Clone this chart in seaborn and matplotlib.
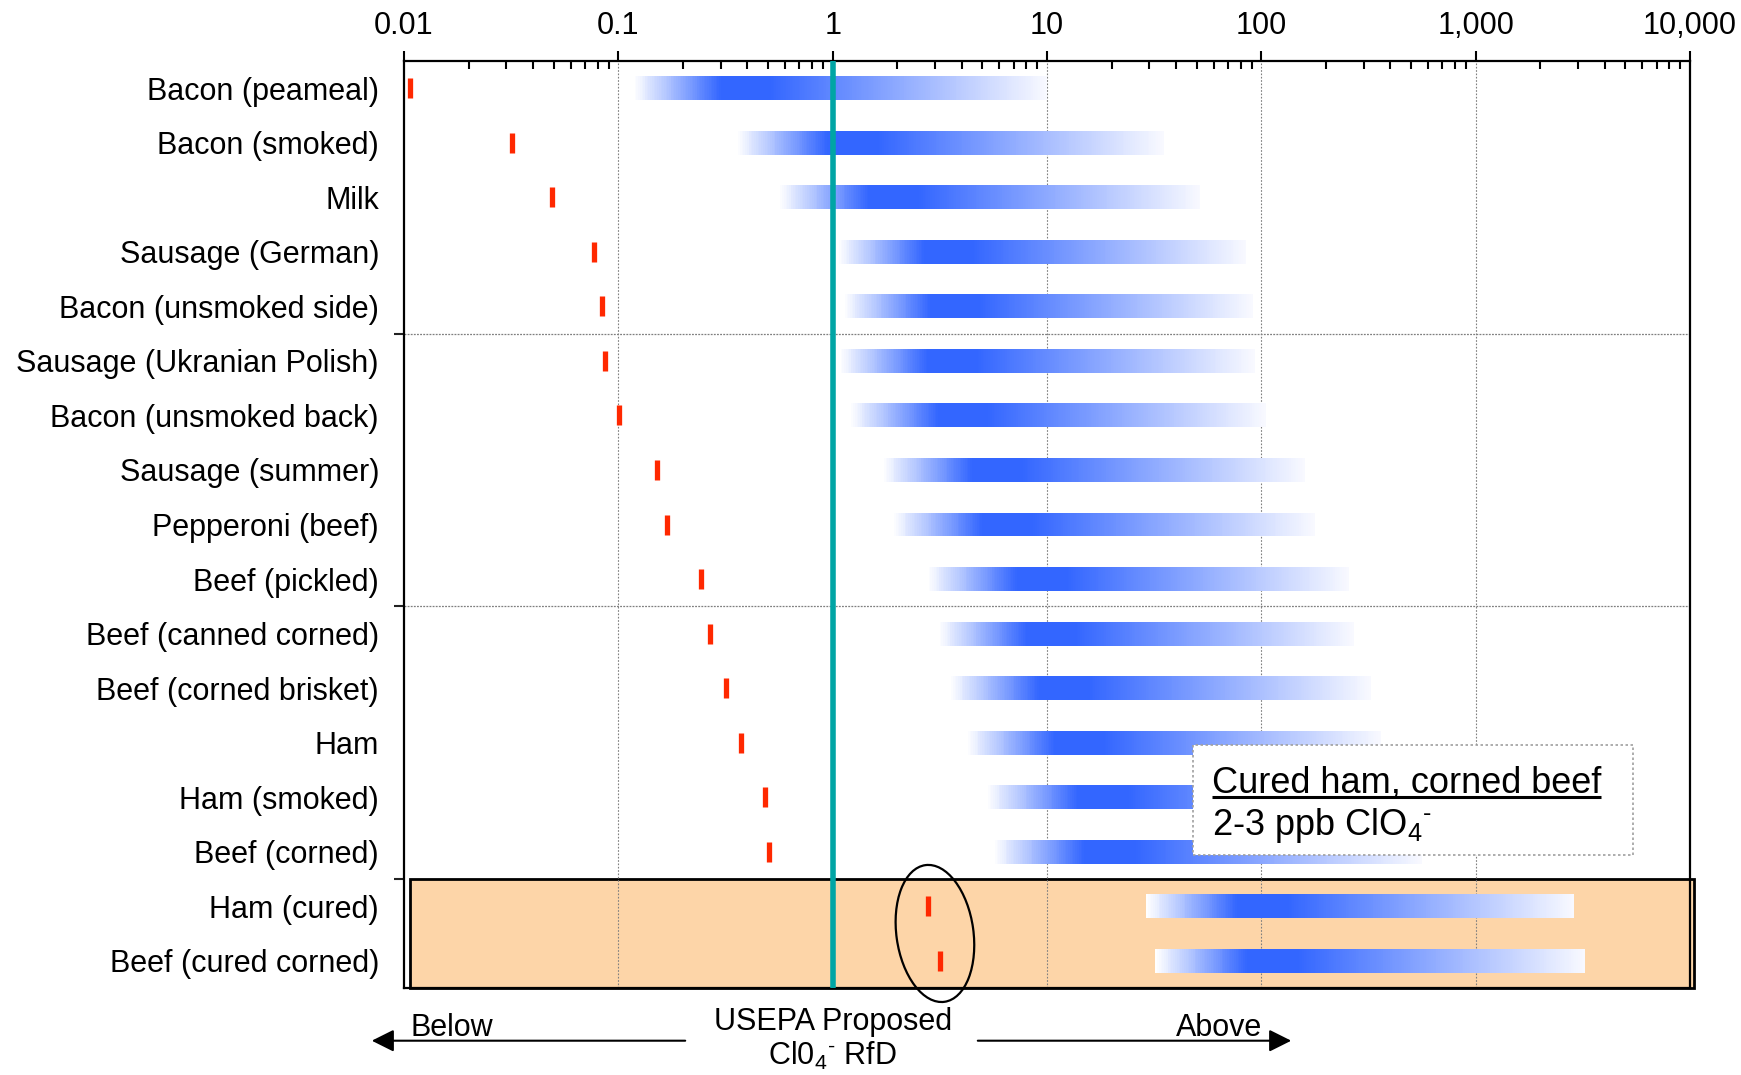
import numpy as np
import matplotlib
matplotlib.use("Agg")
import matplotlib.pyplot as plt
import matplotlib.transforms as mtransforms
import seaborn as sns
from matplotlib.colors import LinearSegmentedColormap
from matplotlib.patches import Rectangle, Ellipse, FancyArrowPatch
from matplotlib.ticker import FixedLocator, LogLocator, NullFormatter

# ---------------- data ----------------
foods = [
    "Bacon (peameal)", "Bacon (smoked)", "Milk", "Sausage (German)",
    "Bacon (unsmoked side)", "Sausage (Ukranian Polish)", "Bacon (unsmoked back)",
    "Sausage (summer)", "Pepperoni (beef)", "Beef (pickled)", "Beef (canned corned)",
    "Beef (corned brisket)", "Ham", "Ham (smoked)", "Beef (corned)",
    "Ham (cured)", "Beef (cured corned)",
]
# red marks (perchlorate content)
marker_vals = [0.0107, 0.0319, 0.0489, 0.0769, 0.0836, 0.0867, 0.101, 0.152, 0.169,
               0.242, 0.268, 0.318, 0.372, 0.482, 0.505, 2.79, 3.17]
# blue gradient ranges (ratio to RfD)
range_low = [0.117, 0.355, 0.56, 1.05, 1.12, 1.07, 1.2, 1.7, 1.9,
             2.75, 3.1, 3.5, 4.2, 5.2, 5.6, 29, 32]
range_high = [10, 35, 52, 85, 91, 93, 105, 160, 178,
              257, 270, 324, 363, 525, 562, 2880, 3240]
tick_vals = [0.01, 0.1, 1, 10, 100, 1000, 10000]
tick_labels = ["0.01", "0.1", "1", "10", "100", "1,000", "10,000"]
rfd_value = 1
group_breaks = [4.5, 9.5, 14.5]
highlight_rows = (14.5, 16.5)
ellipse_center = (3.0, 15.5)

# ---------------- style ----------------
sns.set_style("white")
plt.rcParams["font.family"] = ["Liberation Sans", "DejaVu Sans"]
plt.rcParams["mathtext.fontset"] = "custom"
plt.rcParams["mathtext.rm"] = "Liberation Sans"
plt.rcParams["mathtext.it"] = "Liberation Sans:italic"
plt.rcParams["mathtext.bf"] = "Liberation Sans:bold"
plt.rcParams["text.color"] = "black"
plt.rcParams["xtick.color"] = "black"
plt.rcParams["ytick.color"] = "black"
plt.rcParams["axes.labelcolor"] = "black"

FS = 22
RED = "#FF2800"
BLUE = "#3366FF"
TEAL = "#00A5A5"
PEACH = "#FDD5A8"
GRID = "#7F7F7F"

fig = plt.figure(figsize=(17.41, 10.75), dpi=100)
ax = fig.add_axes([404 / 1741, 87 / 1075, 1286 / 1741, 927 / 1075])

# red markers via seaborn
sns.scatterplot(x=marker_vals, y=foods, marker="|", s=225, linewidth=3.8,
                color=RED, ax=ax, zorder=6, legend=False)

ax.set_xscale("log")
ax.set_xlim(0.01, 10000)
ax.set_ylim(16.5, -0.5)

# gradient bars
cmap = LinearSegmentedColormap.from_list(
    "grad", [(0.0, "#FFFFFF"), (0.21, BLUE), (0.33, BLUE), (1.0, "#F8F9FF")])
N = 240
half_h = 0.22
for i, (lo, hi) in enumerate(zip(range_low, range_high)):
    xe = np.logspace(np.log10(lo), np.log10(hi), N + 1)
    ye = np.array([i - half_h, i + half_h])
    C = ((np.arange(N) + 0.5) / N)[None, :]
    ax.pcolormesh(xe, ye, C, cmap=cmap, vmin=0, vmax=1, shading="flat",
                  zorder=3, antialiased=False, edgecolors="none")

# grid lines
for v in tick_vals[1:-1]:
    ax.axvline(v, color=GRID, lw=0.8, ls=(0, (1.5, 1.5)), zorder=1)
for b in group_breaks[:2]:
    ax.axhline(b, color=GRID, lw=0.9, ls=(0, (1.5, 1.0)), zorder=1)

# highlighted box
hl = Rectangle((0.0047, highlight_rows[0]), 1.0031 - 0.0047,
               highlight_rows[1] - highlight_rows[0],
               transform=mtransforms.blended_transform_factory(ax.transAxes, ax.transData),
               facecolor=PEACH, edgecolor="black", lw=2.0, clip_on=False, zorder=0.6)
ax.add_patch(hl)

# RfD line
ax.axvline(rfd_value, color=TEAL, lw=4, zorder=7)

# axes ticks
ax.xaxis.set_ticks_position("top")
ax.set_xticks(tick_vals, labels=tick_labels)
ax.xaxis.set_minor_locator(LogLocator(base=10, subs=np.arange(2, 10), numticks=100))
ax.xaxis.set_minor_formatter(NullFormatter())
ax.tick_params(axis="x", which="major", direction="out", length=7.5, width=1.5,
               labelsize=FS, pad=7, top=True, bottom=False, labeltop=True,
               labelbottom=False, color="black", labelcolor="black")
ax.tick_params(axis="x", which="minor", direction="in", length=6, width=1.5,
               top=True, bottom=False, color="black")
ax.set_yticks(range(len(foods)), labels=foods)
ax.yaxis.set_minor_locator(FixedLocator(group_breaks))
ax.tick_params(axis="y", which="major", length=0, pad=18, labelsize=FS,
               labelcolor="black")
ax.tick_params(axis="y", which="minor", direction="out", length=7, width=1.5,
               left=True, color="#222222")
ax.set_xlabel("")
ax.set_ylabel("")
for s in ax.spines.values():
    s.set_color("black")
    s.set_linewidth(1.6)

# ellipse around cured items
ell_tr = fig.dpi_scale_trans + mtransforms.ScaledTranslation(
    ellipse_center[0], ellipse_center[1], ax.transData)
ax.add_patch(Ellipse((0, 0), 0.77, 1.38, angle=8, transform=ell_tr,
                     facecolor="none", edgecolor="black", lw=1.6,
                     clip_on=False, zorder=8))

# annotation box
ax.add_patch(Rectangle((0.6135, 0.1435), 0.9557 - 0.6135, 0.2621 - 0.1435,
                       transform=ax.transAxes, facecolor="white",
                       edgecolor="#A0A0A0", lw=1.2, ls=(0, (1.5, 1.5)), zorder=9))
t1 = ax.text(0.6283, 0.2104, "Cured ham, corned beef", transform=ax.transAxes,
             fontsize=26, ha="left", va="baseline", zorder=10)
ax.text(0.6283, 0.165, r"2-3 ppb ClO$_4$$^{\text{-}}$", transform=ax.transAxes,
        fontsize=26, ha="left", va="baseline", zorder=10)
fig.canvas.draw()
bb = t1.get_window_extent()
ul_tr = mtransforms.offset_copy(ax.transAxes, fig=fig, y=-4, units="dots")
x0 = ax.transAxes.inverted().transform((bb.x0, 0))[0]
x1 = ax.transAxes.inverted().transform((bb.x1, 0))[0]
ax.plot([x0, x1], [0.2104, 0.2104], color="black", lw=2.2, transform=ul_tr,
        clip_on=False, zorder=10, solid_capstyle="butt")

# bottom annotations
fig.text(833 / 1741, 45 / 1075, "USEPA Proposed", fontsize=FS, ha="center", va="baseline")
fig.text(832 / 1741, 10 / 1075, r"Cl0$_4$$^{\text{-}}$ RfD", fontsize=FS,
         ha="center", va="baseline")
fig.text(452 / 1741, 39 / 1075, "Below", fontsize=FS, ha="center", va="baseline")
fig.text(1219 / 1741, 39 / 1075, "Above", fontsize=FS, ha="center", va="baseline")
ay = 34.3 / 1075
for xs, xe_ in [(688, 369), (975, 1294)]:
    fig.add_artist(FancyArrowPatch((xs / 1741, ay), (xe_ / 1741, ay),
                                   transform=fig.transFigure,
                                   arrowstyle="-|>,head_length=9,head_width=4.5",
                                   mutation_scale=1.5, color="black", lw=1.5))

fig.savefig("out.png", dpi=100)
